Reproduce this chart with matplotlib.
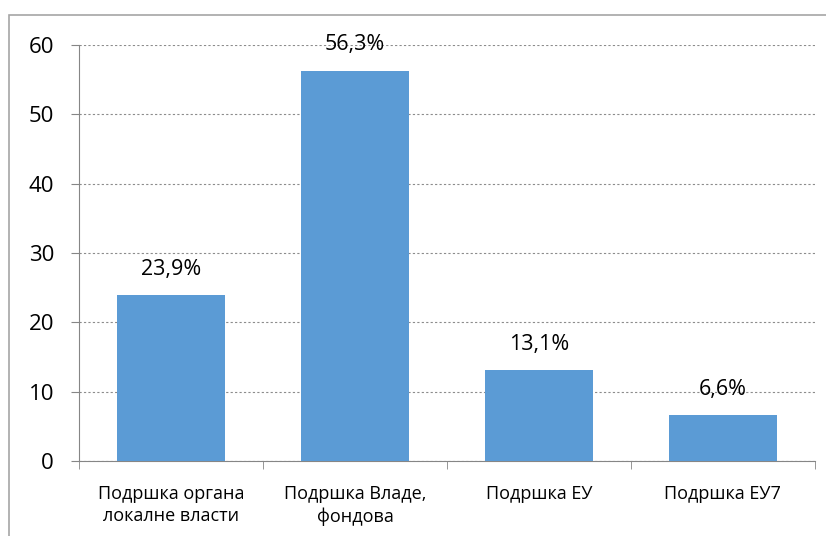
import matplotlib
matplotlib.use('Agg')
import matplotlib.pyplot as plt
import matplotlib.patches as patches
import numpy as np

# Categories and values (percent)
categories = ['Подршка органа\nлокалне власти', 'Подршка Владе,\nфондова',
              'Подршка ЕУ', 'Подршка ЕУ7']
values = [23.9, 56.3, 13.1, 6.6]
yticks = [0, 10, 20, 30, 40, 50, 60]

plt.rcParams['font.family'] = ['Open Sans', 'DejaVu Sans']

fig = plt.figure(figsize=(8.26, 5.36), dpi=100)
ax = fig.add_axes([0.0956, 0.14, 0.891, 0.776])

# outer chart border
fig.patches.append(patches.Rectangle((9 / 826, -0.1), 1.0, 1.0 - 15 / 536 + 0.1,
                                     transform=fig.transFigure, fill=False,
                                     edgecolor='#a6a6a6', linewidth=1.2))

x = np.arange(len(categories))
bars = ax.bar(x, values, width=0.585, color='#5b9bd5', zorder=3)

for b, v in zip(bars, values):
    ax.text(b.get_x() + b.get_width() / 2, v + 2.2, ('%.1f%%' % v).replace('.', ','),
            ha='center', va='bottom', fontsize=15.5, color='#000000')

ax.set_xlim(-0.5, len(categories) - 0.5)
ax.set_ylim(0, 60)
ax.set_yticks(yticks)
ax.set_yticklabels([str(t) for t in yticks], fontsize=16)
ax.set_xticks(x)
ax.set_xticklabels(categories, fontsize=13, linespacing=1.35)
ax.set_xticks(np.arange(-0.5, len(categories)), minor=True)
ax.tick_params(axis='x', which='major', length=0, pad=17)
ax.tick_params(axis='x', which='minor', length=6, color='#868686')
ax.tick_params(axis='y', length=6, color='#868686', pad=12)

ax.grid(axis='y', linestyle=(0, (2, 2)), color='#8c8c8c', linewidth=0.8, zorder=0)
for s in ['top', 'right']:
    ax.spines[s].set_visible(False)
for s in ['left', 'bottom']:
    ax.spines[s].set_color('#868686')

plt.savefig('out.png', dpi=100)
